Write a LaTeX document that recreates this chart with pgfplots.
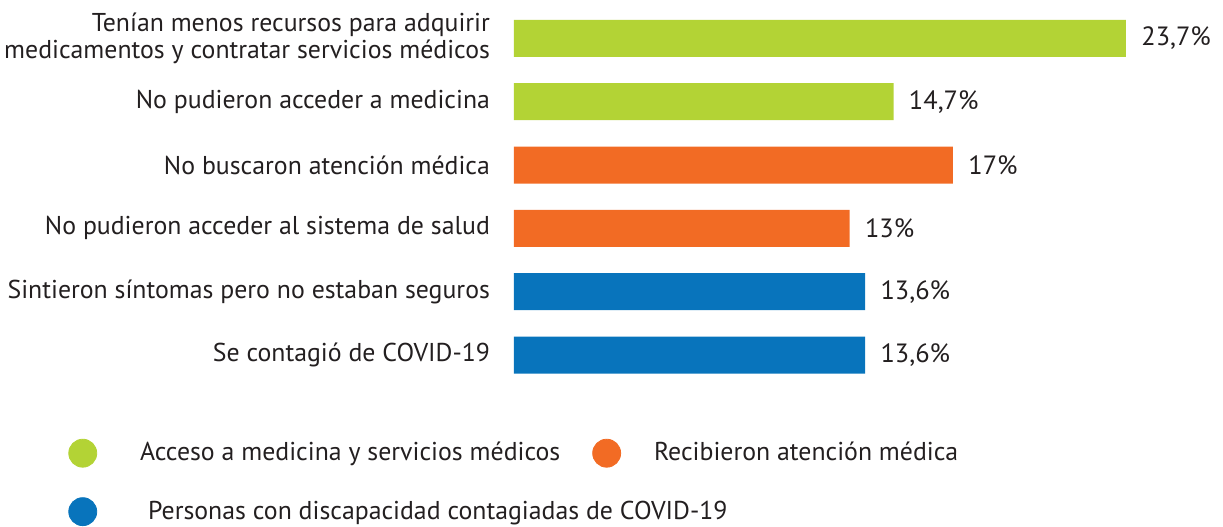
\documentclass[border=0pt]{standalone}
\usepackage{pgfplots}
\pgfplotsset{compat=1.18}
\usepackage{fontspec}
\setmainfont{PT Sans}
\definecolor{cgreen}{RGB}{179,211,53}
\definecolor{corange}{RGB}{242,107,36}
\definecolor{cblue}{RGB}{8,116,188}
\definecolor{ctext}{RGB}{35,31,32}
\begin{document}
\begin{tikzpicture}
\useasboundingbox (-257pt,-69.65pt) rectangle (354.5pt,193.35pt);
\begin{axis}[
  at={(0,0)}, anchor=south west,
  scale only axis,
  width=306pt, height=190pt,
  xbar, bar width=18.5pt, bar shift=0pt,
  xmin=0, xmax=23.7, ymin=-0.5, ymax=5.5,
  xtick=\empty,
  ytick={0,1,2,3,4,5},
  yticklabels={Se contagió de COVID-19,Sintieron síntomas pero no estaban seguros,No pudieron acceder al sistema de salud,No buscaron atención médica,No pudieron acceder a medicina,{Tenían menos recursos para adquirir\\medicamentos y contratar servicios médicos}},
  yticklabel style={font=\fontsize{12.9}{13.5}\selectfont, text=ctext, align=right, xshift=-8.5pt},
  axis line style={draw=none},
  major tick length=0pt,
  clip=false,
  point meta=explicit symbolic,
  nodes near coords,
  nodes near coords style={font=\fontsize{13.2}{14}\selectfont, text=ctext, inner sep=0pt, xshift=7.5pt, anchor=west},
  legend style={draw=none, fill=none, inner sep=0pt,
    at={(axis description cs:-0.7288,-0.135)}, anchor=north west,
    font=\fontsize{12.9}{14}\selectfont, text=ctext,
    row sep=14.5pt,
    /tikz/every even column/.append style={column sep=14pt}},
  legend columns=2,
  legend cell align=left,
]
\addplot[draw=none, fill=cgreen, forget plot] coordinates {(23.7,5) [23{,}7\%] (14.7,4) [14{,}7\%]};
\addplot[draw=none, fill=corange, forget plot] coordinates {(17,3) [17\%] (13,2) [13\%]};
\addplot[draw=none, fill=cblue, forget plot] coordinates {(13.6,1) [13{,}6\%] (13.6,0) [13{,}6\%]};
\addlegendimage{legend image code/.code={\fill[cgreen] (7pt,0) circle (7pt); \path (0,0) (33.5pt,0);}}
\addlegendentry{Acceso a medicina y servicios médicos}
\addlegendimage{legend image code/.code={\fill[corange] (7pt,0) circle (7pt); \path (0,0) (28.5pt,0);}}
\addlegendentry{Recibieron atención médica}
\addlegendimage{legend image code/.code={\fill[cblue] (7pt,0) circle (7pt); \path (0,0) (33.5pt,0);}}
\addlegendentry{\makebox[0pt][l]{\hspace{4pt}Personas con discapacidad contagiadas de COVID-19}}
\end{axis}
\end{tikzpicture}
\end{document}
